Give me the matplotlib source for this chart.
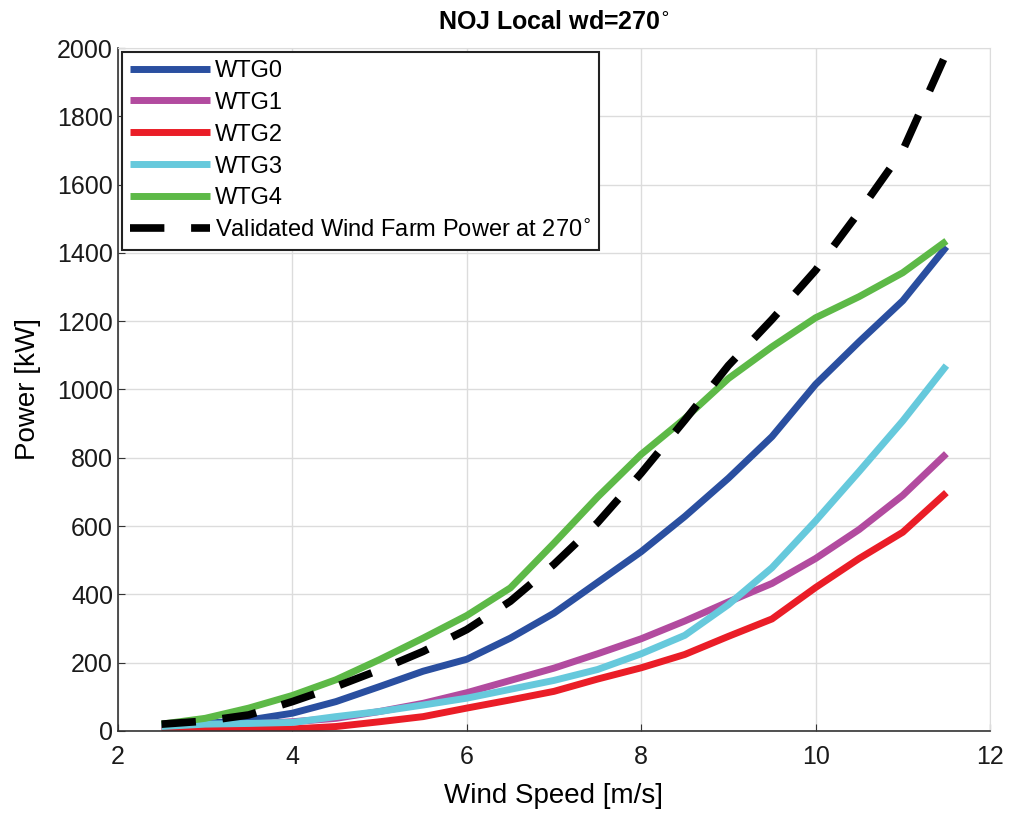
import matplotlib
matplotlib.use('Agg')
import matplotlib.pyplot as plt
import numpy as np

plt.rcParams['font.family'] = ['Liberation Sans', 'DejaVu Sans']

wind_speed = [2.5, 3, 3.5, 4, 4.5, 5, 5.5, 6, 6.5, 7, 7.5, 8, 8.5, 9, 9.5, 10, 10.5, 11, 11.5]

wtg0 = [18, 22, 32, 52, 86, 130, 175, 210, 272, 345, 435, 525, 628, 740, 862, 1015, 1140, 1260, 1418]
wtg1 = [8, 13, 20, 27, 37, 57, 81, 112, 148, 184, 226, 270, 322, 378, 432, 505, 590, 690, 812]
wtg2 = [3, 3, 4, 6, 13, 27, 42, 67, 91, 116, 152, 185, 224, 277, 328, 420, 505, 582, 698]
wtg3 = [13, 20, 22, 25, 42, 57, 76, 96, 122, 148, 180, 226, 280, 370, 478, 615, 760, 908, 1070]
wtg4 = [20, 37, 67, 104, 150, 209, 272, 338, 419, 550, 685, 810, 915, 1032, 1125, 1210, 1272, 1342, 1435]
validated = [20, 29, 47, 86, 130, 179, 233, 297, 380, 488, 610, 755, 910, 1070, 1205, 1349, 1520, 1700, 1985]

series = [wtg0, wtg1, wtg2, wtg3, wtg4]
labels = ['WTG0', 'WTG1', 'WTG2', 'WTG3', 'WTG4']
colors = ['#2a4fa0', '#b24b9f', '#ea1d27', '#66c9dc', '#5db947']

fig = plt.figure(figsize=(10.11, 8.18), dpi=100)
ax = fig.add_axes([0.1167, 0.1064, 0.8625, 0.8349])

for vals, lab, col in zip(series, labels, colors):
	ax.plot(wind_speed, vals, color=col, linewidth=5, label=lab, solid_capstyle='butt')

ax.plot(wind_speed, validated, color='black', linewidth=5.5, linestyle=(0, (4.5, 3.5)),
		label='Validated Wind Farm Power at 270$^{\\circ}$', dash_capstyle='butt')

ax.set_xlim(2, 12)
ax.set_ylim(0, 2000)
ax.set_xticks([2, 4, 6, 8, 10, 12])
ax.set_yticks(np.arange(0, 2001, 200))
ax.grid(True, color='#dcdcdc', linewidth=1)
ax.set_axisbelow(True)

ax.spines['top'].set_color('#dcdcdc')
ax.spines['right'].set_color('#dcdcdc')
ax.spines['left'].set_color('#333333')
ax.spines['bottom'].set_color('#333333')
ax.spines['left'].set_linewidth(1.2)
ax.spines['bottom'].set_linewidth(1.2)
ax.tick_params(axis='both', labelsize=18, direction='in', length=5, colors='#333333', labelcolor='#1a1a1a')
ax.tick_params(axis='x', pad=10)

ax.set_xlabel('Wind Speed [m/s]', fontsize=20, labelpad=10)
ax.set_ylabel('Power [kW]', fontsize=20, labelpad=12)
ax.set_title('NOJ Local wd=270$^{\\circ}$', fontsize=18, fontweight='bold', pad=14)

leg = ax.legend(loc='upper left', fontsize=17, frameon=True, fancybox=False,
				handlelength=3.4, handletextpad=0.2, borderpad=0.35, labelspacing=0.42,
				borderaxespad=0.15)
leg.get_frame().set_edgecolor('#222222')
leg.get_frame().set_linewidth(1.5)
leg.get_frame().set_alpha(1)

plt.savefig('out.png', dpi=100)
